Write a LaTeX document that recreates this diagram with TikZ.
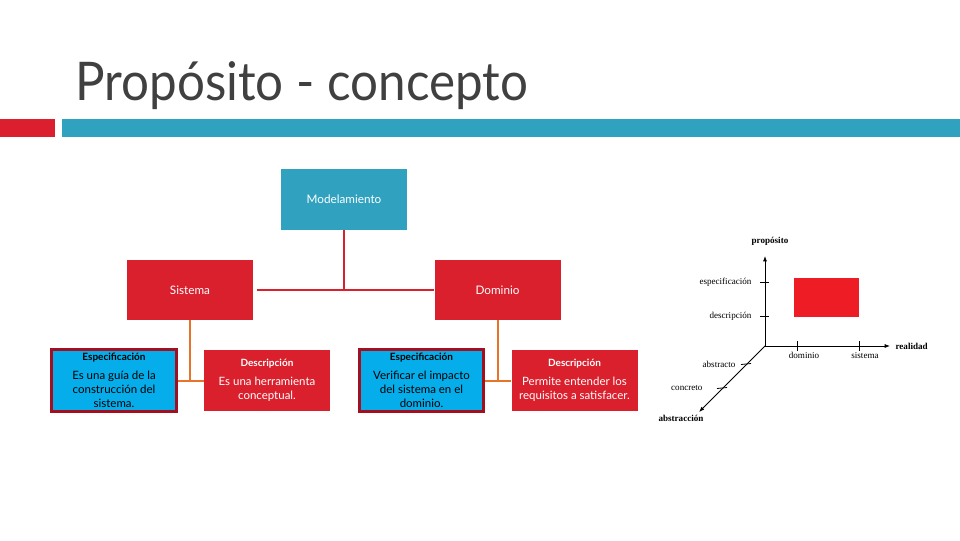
\documentclass[tikz,border=0pt]{standalone}
\usepackage{fontspec}
\setmainfont{Lato}
\newfontfamily\titlefont[FakeStretch=0.925]{Lato}
\newfontfamily\chartfont{Liberation Serif}
\usetikzlibrary{positioning,arrows.meta}

\definecolor{barred}{HTML}{DC1F2E}
\definecolor{barblue}{HTML}{30A2BF}
\definecolor{boxred}{HTML}{DA1F2D}
\definecolor{boxcyan}{HTML}{05AEEB}
\definecolor{boxrim}{HTML}{A30F1F}
\definecolor{linkorange}{HTML}{E8742C}
\definecolor{chartred}{HTML}{EE1C25}
\definecolor{titlegray}{HTML}{404040}

\tikzset{
  topbox/.style={fill=barblue, text=white, minimum width=94.5pt, minimum height=45.75pt,
    font=\fontsize{8.8}{10}\selectfont},
  mainbox/.style={fill=boxred, text=white, minimum width=94.5pt, minimum height=45pt,
    font=\fontsize{8.8}{10}\selectfont},
  espbox/.style={fill=boxcyan, draw=boxrim, line width=2.25pt, text=black, align=center,
    minimum width=93.5pt, minimum height=46.5pt, inner sep=1pt,
    font=\fontsize{8.6}{10.5}\selectfont},
  descbox/.style={fill=boxred, text=white, align=center,
    minimum width=94.5pt, minimum height=45.75pt, inner sep=1pt,
    font=\fontsize{8.6}{10.5}\selectfont},
  redlink/.style={draw=boxred, line width=1.5pt},
  orangelink/.style={draw=linkorange, line width=1.5pt},
  axis/.style={draw=black, line width=0.6pt, -{Latex[length=4pt,width=3pt]}},
  tick/.style={draw=black, line width=0.6pt},
  chartlabel/.style={font=\chartfont\fontsize{6.8}{8}\selectfont, inner sep=1pt},
  chartbold/.style={font=\chartfont\bfseries\fontsize{6.8}{8}\selectfont, inner sep=1pt},
}

\begin{document}
\begin{tikzpicture}[x=0.75pt,y=-0.75pt]
\useasboundingbox (0,0) rectangle (960,540);

% title and bars
\node[anchor=base west, inner sep=0pt, text=titlegray, font=\titlefont\fontsize{40}{44}\selectfont]
  (title) at (75,100) {Propósito - concepto};
\fill[barred] (0,119) rectangle (55,137);
\fill[barblue] (62,119) rectangle (960,137);

% hierarchy
\node[topbox] (model) at (344,199.5) {Modelamiento};
\node[mainbox] (sistema) at (190,290) {Sistema};
\node[mainbox] (dominio) at (497.5,290) {Dominio};

\node[espbox] (espsis) at (114,380.5)
  {\textbf{\fontsize{7.5}{9}\selectfont Especificación}\\[3.5pt]Es una guía de la\\construcción del\\sistema.};
\node[descbox] (descsis) at (267,380.5)
  {\textbf{\fontsize{7.5}{9}\selectfont Descripción}\\[3.5pt]Es una herramienta\\conceptual.};
\node[espbox] (espdom) at (421.5,380.5)
  {\textbf{\fontsize{7.5}{9}\selectfont Especificación}\\[3.5pt]Verificar el impacto\\del sistema en el\\dominio.};
\node[descbox] (descdom) at (574.5,380.5)
  {\textbf{\fontsize{7.5}{9}\selectfont Descripción}\\[3.5pt]Permite entender los\\requisitos a satisfacer.};

\draw[redlink] ([xshift=3pt]sistema.east) -- (dominio.west);
\draw[redlink] (model.south) -- (model.south |- sistema.east);
\draw[orangelink] (sistema.south) -- (sistema.south |- espsis.east);
\draw[orangelink] (espsis.east) -- (descsis.west);
\draw[orangelink] (dominio.south) -- (dominio.south |- espdom.east);
\draw[orangelink] (espdom.east) -- (descdom.west);

% chart
\coordinate (o) at (765,346);
\coordinate (ytip) at (765,256);
\coordinate (xtip) at (890,346);
\coordinate (ztip) at (699,412);
\fill[chartred] (794,278) rectangle (859,317);
\draw[axis] (o) -- (ytip);
\draw[axis] (o) -- (xtip);
\draw[axis] (o) -- (ztip);
\draw[tick] (760,282) -- (769,282);
\draw[tick] (760,316) -- (769,316);
\draw[tick] (797,341) -- (797,351);
\draw[tick] (859,341) -- (859,351);
\draw[tick] (741,364.5) -- (751,363.5);
\draw[tick] (717,388.5) -- (727,387.5);
\node[chartbold, anchor=south] (proposito) at (770,247) {propósito};
\node[chartbold, anchor=west] (realidad) at (894,346) {realidad};
\node[chartbold] (abstraccion) at (681,418) {abstracción};
\node[chartlabel, anchor=east] (espec) at (753,282) {especificación};
\node[chartlabel, anchor=east] (descr) at (753,316) {descripción};
\node[chartlabel, anchor=north] (domin) at (804,351) {dominio};
\node[chartlabel, anchor=north] (siste) at (865,351) {sistema};
\node[chartlabel, anchor=east] (abst) at (737,364) {abstracto};
\node[chartlabel, anchor=east] (concr) at (704,388) {concreto};
\end{tikzpicture}
\end{document}
